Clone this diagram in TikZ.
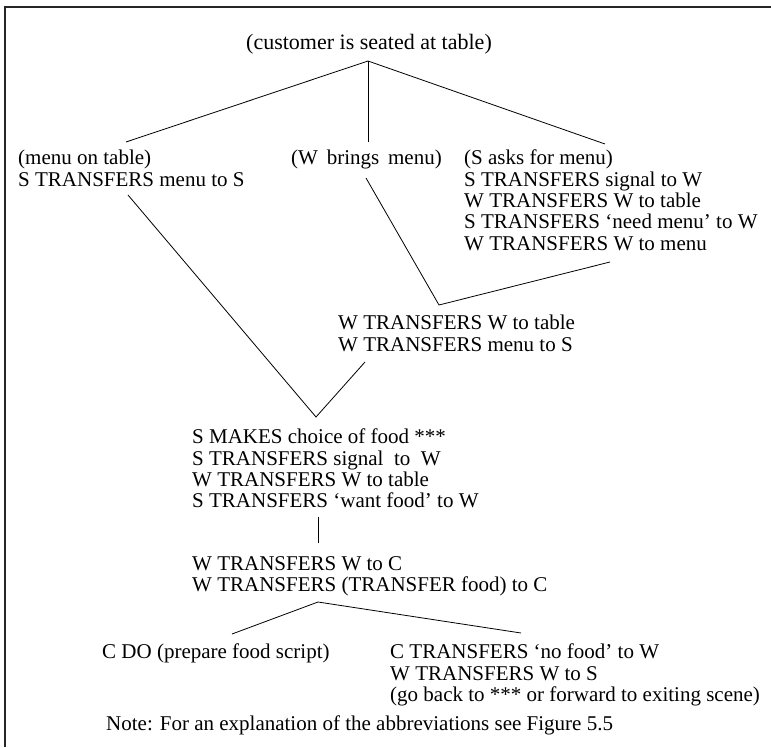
\documentclass[tikz,border=0pt]{standalone}
\usepackage{fontspec}
\setmainfont{Liberation Serif}
\begin{document}
\begin{tikzpicture}[x=1pt,y=-1pt,
  txt/.style={anchor=north west,inner sep=0pt,align=left,
    font=\fontsize{21}{21.3}\selectfont},
  conn/.style={line width=0.8pt},
  frameline/.style={line width=1.6pt,black!85}]
\useasboundingbox (0,0) rectangle (771,747);
% frame (top and left only)
\draw[frameline] (5,747) -- (5,7) -- (771,7);

% texts (top = first baseline - 14)
\node[txt,anchor=north,font=\fontsize{22}{22}\selectfont] (title) at (369,34) {(customer is seated at table)};
\node[txt] (mtab) at (18,150) {(menu on table)\\S TRANSFERS menu to S};
\node[txt] (wbr) at (291,150) {(W\hspace{0.42em}brings\hspace{0.42em}menu)};
\node[txt] (sask) at (464,150) {(S asks for menu)\\S TRANSFERS signal to W\\W TRANSFERS W to table\\S TRANSFERS ‘need menu’ to W\\W TRANSFERS W to menu};
\node[txt] (wtab) at (338,315) {W TRANSFERS W to table\\W TRANSFERS menu to S};
\node[txt] (smk) at (192,429) {S MAKES choice of food ***\\S TRANSFERS signal\hspace{0.5em}to\hspace{0.5em}W\\W TRANSFERS W to table\\S TRANSFERS ‘want food’ to W};
\node[txt] (wtc) at (192,556) {W TRANSFERS W to C\\W TRANSFERS (TRANSFER food) to C};
\node[txt] (cdo) at (102,644) {C DO (prepare food script)};
\node[txt] (ctr) at (390,644) {C TRANSFERS ‘no food’ to W\\W TRANSFERS W to S\\(go back to *** or forward to exiting scene)};
\node[txt] (note) at (106,716) {Note: For an explanation of the abbreviations see Figure 5.5};

% connector points
\coordinate (apex) at (368,61);
\coordinate (mtabT) at (126,142);
\coordinate (wbrT) at (368,142);
\coordinate (saskT) at (605,144);
\coordinate (mtabB) at (128,195);
\coordinate (wbrB) at (366,178);
\coordinate (join) at (439,305);
\coordinate (saskB) at (610,262);
\coordinate (wtabB) at (365,362);
\coordinate (vee) at (316,417);
\coordinate (smkB) at (318,517);
\coordinate (wtcT) at (318,543);
\coordinate (apex2) at (318,602);
\coordinate (cdoT) at (232,634);
\coordinate (ctrT) at (521,633);

\draw[conn] (mtabT) -- (apex) -- (saskT);
\draw[conn] (apex) -- (wbrT);
\draw[conn] (wbrB) -- (join) -- (saskB);
\draw[conn] (mtabB) -- (vee) -- (wtabB);
\draw[conn] (smkB) -- (wtcT);
\draw[conn] (cdoT) -- (apex2) -- (ctrT);
\end{tikzpicture}
\end{document}
